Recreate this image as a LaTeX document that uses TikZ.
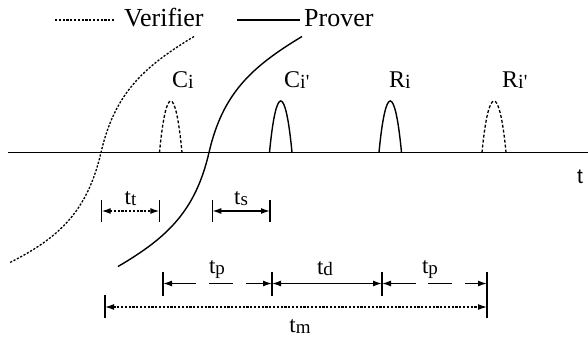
\documentclass[tikz,border=0pt]{standalone}
\usepackage{fontspec}
\setmainfont{Liberation Serif}
\newfontfamily\axisfont{Liberation Sans}
\usetikzlibrary{arrows.meta}
\newcommand\twolab[3][19]{#2{\fontsize{#1}{#1}\selectfont\raisebox{-1pt}{#3}}}
\begin{document}
\begin{tikzpicture}[x=1pt,y=-1pt,
  base/.style={line width=1.4pt},
  dotln/.style={line width=1.3pt, dash pattern=on 2.2pt off 1.6pt},
  dashln/.style={line width=1.3pt, dash pattern=on 3pt off 2pt},
  tickln/.style={line width=1.2pt},
  tip/.tip={Latex[length=9pt,width=6pt]},
  legend/.style={font=\fontsize{26}{26}\selectfont, inner sep=0pt, anchor=base west},
  pulselab/.style={font=\fontsize{24}{24}\selectfont, inner sep=0pt, anchor=base west},
  dimlab/.style={font=\fontsize{23}{23}\selectfont, inner sep=0pt, anchor=base},
]
\useasboundingbox (0,0) rectangle (588,337);

% legend
\coordinate (lv1) at (55,20); \coordinate (lv2) at (115,20);
\draw[dotln] (lv1) -- (lv2);
\node[legend] (ver) at (124,27) {Verifier};
\coordinate (lp1) at (237,20); \coordinate (lp2) at (300,20);
\draw[base] (lp1) -- (lp2);
\node[legend] (pro) at (304,27) {Prover};

% time axis
\coordinate (ax0) at (8,152.5); \coordinate (ax1) at (588,152.5);
\draw[line width=1.4pt] (ax0) -- (ax1);
\node[font=\axisfont\fontsize{21}{21}\selectfont, inner sep=0pt, anchor=base] (tlab) at (580,183) {t};

% verifier and prover curves
\draw[dotln, shift={(101,152.5)}] (93,-116) .. controls (41.6,-85.1) and (13.5,-58.4) .. (0,0)
   .. controls (-13.5,58.4) and (-41.6,85.1) .. (-91,110);
\draw[base, shift={(209,152.5)}] (93,-116) .. controls (41.6,-85.1) and (13.5,-58.4) .. (0,0)
   .. controls (-13.5,58.4) and (-41.6,85.1) .. (-91,114);

% pulses
\draw[dashln] (159.5,152.5) .. controls (166,83.8) and (175.5,83.8) .. (182,152.5);
\draw[base]   (269.5,152.5) .. controls (276,83.8) and (285.5,83.8) .. (292,152.5);
\draw[base]   (379,152.5) .. controls (385.5,83.8) and (395,83.8) .. (401.5,152.5);
\draw[dashln] (482,152.5) .. controls (488.5,83.8) and (499.5,83.8) .. (506,152.5);

\node[pulselab] (ci) at (172,87) {\twolab[20]{C}{i}};
\node[pulselab] (cip) at (284,87) {\twolab[20]{C}{i\textquotesingle}};
\node[pulselab] (ri) at (389,87) {\twolab[20]{R}{i}};
\node[pulselab] (rip) at (502,87) {\twolab[20]{R}{i\textquotesingle}};

% tt and ts
\foreach \n/\x in {a/101.7,b/159.3,c/212.3,d/270}{
  \coordinate (\n-top) at (\x,200); \coordinate (\n-bot) at (\x,222); \coordinate (\n-mid) at (\x,211);
  \draw[tickln] (\n-top) -- (\n-bot);
}
\draw[dotln, tip-tip] (a-mid) -- (b-mid);
\draw[base, tip-tip] (c-mid) -- (d-mid);
\node[dimlab] (tt) at (130.5,204) {\twolab{t}{t}};
\node[dimlab] (ts) at (241,204) {\twolab{t}{s}};

% second row
\foreach \n/\x in {e/163,f/272,g/382}{
  \coordinate (\n-top) at (\x,272); \coordinate (\n-bot) at (\x,296); \coordinate (\n-mid) at (\x,283.5);
  \draw[tickln] (\n-top) -- (\n-bot);
}
\coordinate (h-top) at (487,272); \coordinate (h-bot) at (487,318);
\coordinate (h-mid) at (487,283.5); \coordinate (h-low) at (487,307);
\draw[tickln] (h-top) -- (h-bot);
\coordinate (k-top) at (105,295); \coordinate (k-bot) at (105,318); \coordinate (k-low) at (105,307);
\draw[tickln] (k-top) -- (k-bot);

% tp (first)
\coordinate (p1a) at (196,283.5); \coordinate (p1b) at (209,283.5);
\coordinate (p1c) at (233,283.5); \coordinate (p1d) at (246,283.5);
\draw[base, tip-] (e-mid) -- (p1a);
\draw[base] (p1b) -- (p1c);
\draw[base, -tip] (p1d) -- (f-mid);
\node[dimlab] (tp1) at (217,273) {\twolab{t}{p}};

% td
\draw[base, tip-tip] (f-mid) -- (g-mid);
\node[dimlab] (td) at (325,274) {\twolab{t}{d}};

% tp (second)
\coordinate (p2a) at (416,283.5); \coordinate (p2b) at (428,283.5);
\coordinate (p2c) at (452,283.5); \coordinate (p2d) at (465,283.5);
\draw[base, tip-] (g-mid) -- (p2a);
\draw[base] (p2b) -- (p2c);
\draw[base, -tip] (p2d) -- (h-mid);
\node[dimlab] (tp2) at (430,273) {\twolab{t}{p}};

% tm
\draw[dotln, tip-tip] (k-low) -- (h-low);
\node[dimlab] (tm) at (300,332) {\twolab{t}{m}};
\end{tikzpicture}
\end{document}
